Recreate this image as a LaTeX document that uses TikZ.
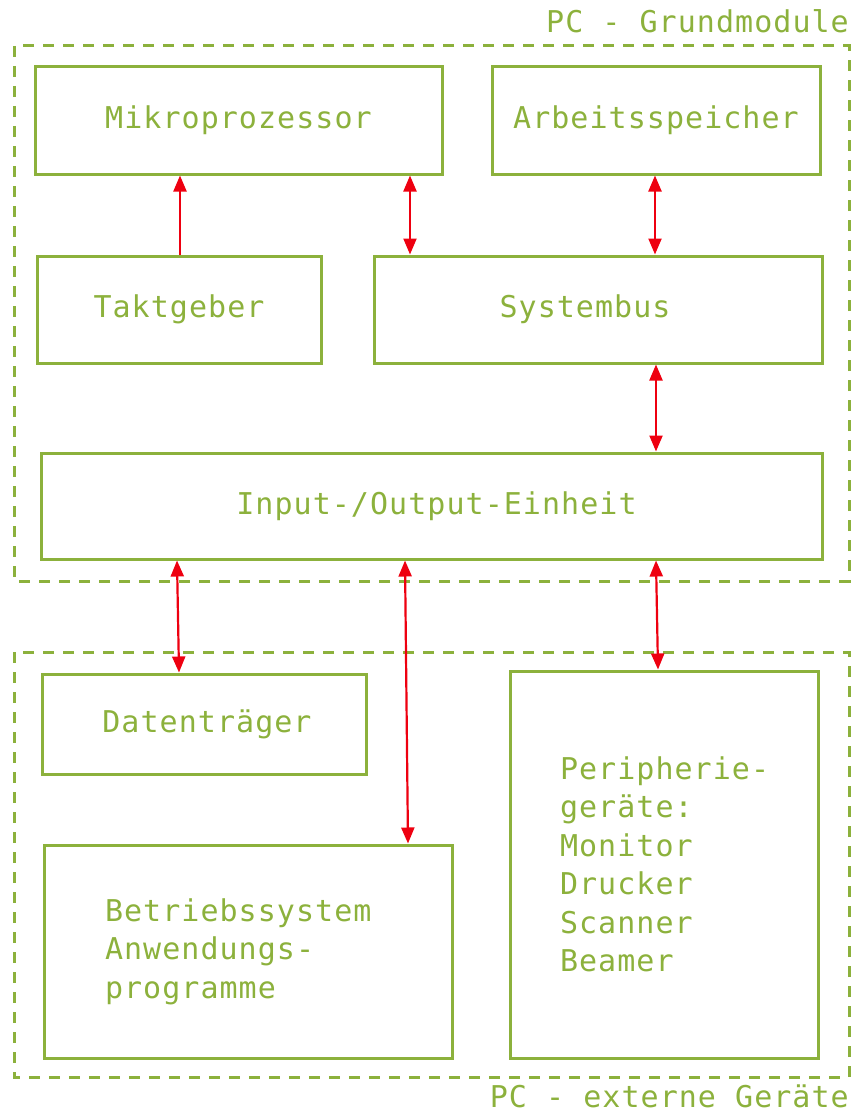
\documentclass[tikz,border=0pt]{standalone}
\usepackage{fontspec}
\usetikzlibrary{arrows.meta}
\newfontfamily\diagmono[LetterSpace=3.5]{DejaVu Sans Mono}
\definecolor{boxgreen}{HTML}{8CB13C}
\definecolor{arrred}{HTML}{EE0010}
\begin{document}
\begin{tikzpicture}[x=1pt,y=-1pt,
  every node/.style={font=\diagmono\fontsize{30}{38.5}\selectfont, text=boxgreen},
  unit/.style={draw=boxgreen, line width=3pt, inner sep=0pt, anchor=center},
  group/.style={draw=boxgreen, line width=3pt, dash pattern=on 11pt off 9pt},
  link/.style={draw=arrred, line width=2.2pt, {Triangle[width=13pt,length=16pt]}-{Triangle[width=13pt,length=16pt]}},
  onelink/.style={draw=arrred, line width=2.2pt, -{Triangle[width=13pt,length=16pt]}},
  grouplabel/.style={anchor=base east, inner sep=0pt}
]
\useasboundingbox (0,0) rectangle (867,1113);
% group frames
\draw[group] (14,46) rectangle (849,581);
\draw[group] (14,652) rectangle (849,1077);
\node[grouplabel] (lab1) at (849,33) {PC - Grundmodule};
\node[grouplabel] (lab2) at (849,1107) {PC - externe Geräte};
% boxes
\node[unit, minimum width=407pt, minimum height=107pt] (mp) at (238.5,120.5) {Mikroprozessor};
\node[unit, minimum width=328pt, minimum height=107pt] (as) at (656,120.5) {Arbeitsspeicher};
\node[unit, minimum width=284pt, minimum height=107pt] (tg) at (179,309.5) {Taktgeber};
\node[unit, minimum width=448pt, minimum height=107pt] (sb) at (598,309.5) {\hspace*{-26pt}Systembus};
\node[unit, minimum width=781pt, minimum height=106pt] (io) at (431.5,506) {\hspace*{10pt}Input-/Output-Einheit};
\node[unit, minimum width=324pt, minimum height=100pt] (dt) at (204,724) {\hspace*{6pt}Datenträger};
\node[unit, text width=286pt, inner xsep=61pt, align=left, minimum height=213pt] (bs) at (248,951.5) {\mbox{Betriebssystem}\\\mbox{Anwendungs-}\\\mbox{programme}};
\node[unit, text width=208pt, inner xsep=50pt, align=left, minimum height=387pt] (pg) at (664,864.5) {\mbox{Peripherie-}\\\mbox{geräte:}\\Monitor\\Drucker\\Scanner\\Beamer};
% connectors
\draw[onelink] (tg.north -| 180,0) -- (mp.south -| 180,0);
\draw[link] (mp.south -| 410,0) -- (sb.north -| 410,0);
\draw[link] (as.south -| 655,0) -- (sb.north -| 655,0);
\draw[link] (sb.south -| 656,0) -- (io.north -| 656,0);
\draw[link] (io.south -| 177,0) -- (dt.north -| 179,0);
\draw[link] (io.south -| 405,0) -- (bs.north -| 408,0);
\draw[link] (io.south -| 656,0) -- (pg.north -| 658,0);
\end{tikzpicture}
\end{document}
